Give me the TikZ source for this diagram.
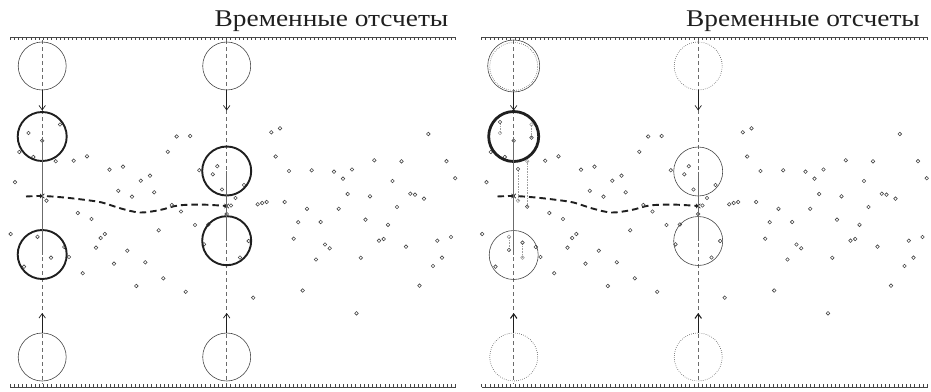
\documentclass[tikz,border=0pt]{standalone}
\usepackage{fontspec}
\setmainfont{Liberation Serif}
\usetikzlibrary{arrows.meta}
\definecolor{ink}{gray}{0.12}
\definecolor{mark}{gray}{0.28}
\definecolor{guide}{gray}{0.42}
\definecolor{faint}{gray}{0.62}
\tikzset{
  rulerline/.style={draw=mark, line width=0.8pt},
  tick/.style={draw=mark, line width=0.55pt},
  guideline/.style={draw=guide, line width=0.6pt, dash pattern=on 4pt off 3pt},
  linkline/.style={draw=guide, line width=0.7pt},
  pathcurve/.style={draw=ink, line width=1.9pt, dash pattern=on 6.5pt off 4pt},
  xmark/.style={draw=ink, line width=0.7pt},
  pt/.style={draw=mark, line width=0.6pt},
  ghostpt/.style={draw=faint, line width=0.6pt},
  shiftline/.style={draw=faint, line width=0.5pt, dash pattern=on 0.6pt off 1pt},
  ring/.style={circle, draw=mark, line width=0.6pt, minimum size=48pt, inner sep=0pt},
  dotring/.style={circle, draw=mark, line width=0.6pt, dash pattern=on 0.6pt off 1.5pt, minimum size=48pt, inner sep=0pt},
  heavyring/.style={circle, draw=ink, line width=1.9pt, minimum size=49pt, inner sep=0pt},
  arr/.style={draw=ink, line width=0.7pt, -{Straight Barb[length=4.5pt,width=6.5pt]}},
  heavyarr/.style={draw=ink, line width=1.1pt, -{Straight Barb[length=4.5pt,width=6.5pt]}},
  caption/.style={text=ink, inner sep=0pt, font=\fontsize{24}{26}\selectfont},
}
% observation points common to both panels
\def\staticpts{42.2/140.7, 19.3/152, 33.3/157, 73.7/160.7, 87/156.3, 15/182.2,
 109.5/169.7, 123/166.7, 140.8/180.7, 150/175.7, 118.3/190.8, 132/196.7,
 154.2/192.3, 167.8/151.8, 176.7/136.5, 190.2/136, 199.3/170.2, 217.3/166.2,
 212.8/174.3, 222/189.5, 77.8/213, 171.8/205, 181/211.5, 231/205.5, 226.7/214,
 244/185, 235.5/198, 271.3/132.3, 280/128.3, 275.7/156.5, 289/171, 311.7/170.3,
 334/171.7, 352/169.5, 343/178.7, 374.3/160.3, 401.5/161.3, 428.3/134,
 446.5/161.2, 455.2/178.2, 392.5/181, 347.7/194, 370/196.3, 410.3/193.7,
 415/194.7, 424/198.7, 257.7/204.3, 262.2/203, 266.7/202, 284.7/202, 307/208.8,
 338.7/208.8, 397/207, 10.7/234, 64.3/247, 69/257, 24/266.7, 91.5/219,
 104.8/234, 100.7/238, 96/247.7, 82.7/273.2, 114/263.7, 127.3/250.7,
 145.3/262.3, 136.3/286, 163.3/278.3, 185.7/291.8, 158.7/230.3, 195/225,
 204/244.3, 208.3/224.5, 298.2/222.2, 320.7/222, 365.5/219.7, 388/224.8,
 293.7/238.7, 325/244.5, 329.7/248.3, 316/259.5, 360.8/257.8, 379/240.7,
 383.7/239, 406/246.7, 437.3/240.7, 451/237, 442/257.7, 433/266, 419.5/285.7,
 302.7/290.5, 253.2/297.7, 356.5/313.3, 248.7/241, 240/257.5}
% points that move between panels: x / old y / new y
\def\movedpts{60/124.5/137.7, 28.5/133/122, 55.7/161.2/206.7,
 46.5/200.7/169, 37.5/236.8/250, 51/257.7/242.7}

% ruler, caption, guides, trajectory and points shared by both panels
\newcommand\panelframe[1]{%
  \coordinate (#1rtl) at (10,37);
  \coordinate (#1rtr) at (456,37);
  \coordinate (#1rbl) at (10,387);
  \coordinate (#1rbr) at (456,387);
  \draw[rulerline] (#1rtl) -- (#1rtr);
  \draw[rulerline] (#1rbl) -- (#1rbr);
  \foreach \i in {0,...,107} {
    \draw[tick] (10+\i*4.165,37) -- ++(0,3.4);
    \draw[tick] (10+\i*4.165,387) -- ++(0,-3.4);
  }
  \node[caption, anchor=base east] (#1title) at (448.5,26)
    {\scalebox{1.14}[1]{Временные отсчеты}};
  % vertical guides at the two sampled instants
  \coordinate (#1g1t) at (42.2,40);
  \coordinate (#1g1b) at (42.2,384);
  \coordinate (#1g2t) at (226.7,40);
  \coordinate (#1g2b) at (226.7,384);
  \draw[guideline] (#1g1t) -- (#1g1b);
  \draw[guideline] (#1g2t) -- (#1g2b);
  % estimated trajectory
  \draw[pathcurve] plot[smooth, tension=0.55] coordinates {(26,196.5) (42.2,196)
    (62,197.3) (82,199.5) (102,202.5) (121,208.5) (140,212.5) (160,210)
    (178,205.5) (202,204.6) (226.7,206)};
  \coordinate (#1x1) at (42.2,196);
  \coordinate (#1x2) at (226.7,206);
  \draw[xmark] (#1x1) +(-2.2,-2.2) -- +(2.2,2.2) +(-2.2,2.2) -- +(2.2,-2.2);
  \draw[xmark] (#1x2) +(-2.2,-2.2) -- +(2.2,2.2) +(-2.2,2.2) -- +(2.2,-2.2);
  \foreach \px/\py in \staticpts { \draw[pt] (\px,\py) circle (1.8pt); }
}

\begin{document}
\begin{tikzpicture}[x=1pt,y=-1pt]
\useasboundingbox (0,0) rectangle (931,391);

% ---------- left panel ----------
\begin{scope}
  \panelframe{L}
  \foreach \px/\py/\pn in \movedpts { \draw[pt] (\px,\py) circle (1.8pt); }
  \node[ring] (Lt1) at (42.2,66) {};
  \node[ring] (Lt2) at (226.7,66) {};
  \node[heavyring] (Lu1) at (42.2,136.5) {};
  \node[heavyring] (Ll1) at (42.2,254.5) {};
  \node[heavyring] (Lu2) at (226.7,171) {};
  \node[heavyring] (Ll2) at (226.7,240.7) {};
  \node[ring] (Lb1) at (42.2,357) {};
  \node[ring] (Lb2) at (226.7,357) {};
  \draw[linkline] (Lu1.center) -- (Ll1.center);
  \draw[linkline] (Lu2.center) -- (Ll2.center);
  \coordinate (La1) at (42.2,110.5);
  \coordinate (La2) at (226.7,110.5);
  \coordinate (La3) at (42.2,313);
  \coordinate (La4) at (226.7,313);
  \draw[arr] (Lt1.south) -- (La1);
  \draw[arr] (Lt2.south) -- (La2);
  \draw[arr] (Lb1.north) -- (La3);
  \draw[arr] (Lb2.north) -- (La4);
\end{scope}

% ---------- right panel ----------
\begin{scope}[xshift=471.5pt]
  \panelframe{R}
  \foreach \px/\py/\pn in \movedpts {
    \draw[shiftline] (\px,\py) -- (\px,\pn);
    \draw[ghostpt] (\px,\py) circle (1.8pt);
    \draw[pt] (\px,\pn) circle (1.8pt);
  }
  \node[ring, minimum size=52pt] (Rt1) at (42.2,66) {};
  \node[dotring] (Rt1d) at (42.2,66.5) {};
  \node[dotring] (Rt2) at (226.7,66) {};
  \node[heavyring, line width=2.8pt, minimum size=50pt] (Ru1) at (42.2,136.5) {};
  \node[ring, minimum size=49pt] (Rl1) at (42.2,255) {};
  \node[ring, minimum size=49pt] (Ru2) at (226.7,171.5) {};
  \node[ring, minimum size=49pt] (Rl2) at (226.7,241) {};
  \node[dotring] (Rb1) at (42.2,357) {};
  \node[dotring] (Rb2) at (226.7,357) {};
  \draw[linkline] (Ru1.center) -- (Rl1.center);
  \draw[linkline] (Ru2.center) -- (Rl2.center);
  \coordinate (Ra1) at (42.2,110.5);
  \coordinate (Ra2) at (226.7,110.5);
  \coordinate (Ra3) at (42.2,313);
  \coordinate (Ra4) at (226.7,313);
  \draw[arr] (Rt1.south) -- (Ra1);
  \draw[arr] (Rt2.south) -- (Ra2);
  \draw[heavyarr] (Rb1.north) -- (Ra3);
  \draw[heavyarr] (Rb2.north) -- (Ra4);
\end{scope}
\end{tikzpicture}
\end{document}
